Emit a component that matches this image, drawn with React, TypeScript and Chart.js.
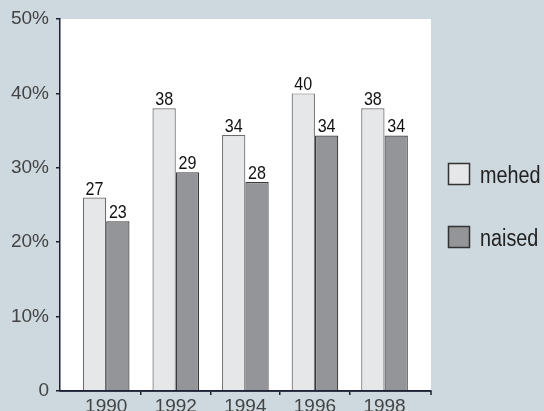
import React, { useEffect, useRef } from 'react';
import { Chart, registerables } from 'chart.js';

Chart.register(...registerables);

const years = ['1990', '1992', '1994', '1996', '1998'];
const seriesNames = ['mehed', 'naised'];
const mehedValues = [26, 38, 34.4, 40, 38];
const naisedValues = [22.8, 29.4, 28.1, 34.35, 34.35];
const mehedLabels = ['27', '38', '34', '40', '38'];
const naisedLabels = ['23', '29', '28', '34', '34'];
const yTickValues = [0, 10, 20, 30, 40, 50];

const AXIS = '#1d2135';
const BG = '#cdd8df';

function drawCondensed(ctx: CanvasRenderingContext2D, text: string, x: number, y: number, size: number, sx: number, align: CanvasTextAlign, baseline: CanvasTextBaseline, color: string) {
  ctx.save();
  ctx.translate(x, y);
  ctx.scale(sx, 1);
  ctx.font = `${size}px "Liberation Sans", Arial, sans-serif`;
  ctx.textAlign = align;
  ctx.textBaseline = baseline;
  ctx.fillStyle = color;
  ctx.fillText(text, 0, 0);
  ctx.restore();
}

const plotBgPlugin = {
  id: 'plotBg',
  beforeDraw(chart: any) {
    const { ctx, chartArea: a } = chart;
    ctx.save();
    ctx.fillStyle = '#ffffff';
    ctx.fillRect(a.left, a.top, a.right - a.left, a.bottom - a.top);
    ctx.restore();
  },
};

const labelsPlugin = {
  id: 'valueLabels',
  afterDatasetsDraw(chart: any) {
    const { ctx, chartArea: a } = chart;
    ctx.save();
    ctx.strokeStyle = AXIS;
    ctx.lineWidth = 1.5;
    ctx.beginPath();
    ctx.moveTo(a.left, a.bottom);
    ctx.lineTo(a.right, a.bottom);
    ctx.moveTo(a.right, a.bottom);
    ctx.lineTo(a.right, a.bottom + 4);
    ctx.stroke();
    ctx.restore();

    chart.data.datasets.forEach((ds: any, di: number) => {
      const meta = chart.getDatasetMeta(di);
      meta.data.forEach((el: any, i: number) => {
        const txt = ds.valueLabels[i];
        drawCondensed(ctx, txt, el.x, el.y - 3, 18.5, 0.87, 'center', 'alphabetic', '#111111');
      });
    });

    const lx = 448.5;
    const ys = [163.5, 226.5];
    chart.data.datasets.forEach((ds: any, di: number) => {
      const y = ys[di];
      ctx.save();
      ctx.fillStyle = ds.backgroundColor;
      ctx.strokeStyle = '#333333';
      ctx.lineWidth = 1.5;
      ctx.fillRect(lx, y, 21, 21);
      ctx.strokeRect(lx, y, 21, 21);
      ctx.restore();
      drawCondensed(ctx, ds.label, 480, y + 19, 23, 0.86, 'left', 'alphabetic', '#222222');
    });
  },
};

export default function App() {
  const ref = useRef<HTMLCanvasElement | null>(null);

  useEffect(() => {
    const canvas = ref.current;
    if (!canvas) return;
    const chart = new Chart(canvas, {
      type: 'bar',
      data: {
        datasets: [
          {
            label: seriesNames[0],
            data: mehedValues.map((v, i) => ({ x: i, y: v })),
            backgroundColor: '#e6e7e8',
            borderColor: '#6a6b6e',
            borderWidth: 1.2,
            valueLabels: mehedLabels,
          } as any,
          {
            label: seriesNames[1],
            data: naisedValues.map((v, i) => ({ x: i, y: v })),
            backgroundColor: '#939598',
            borderColor: '#3a3a3c',
            borderWidth: 1.2,
            valueLabels: naisedLabels,
          } as any,
        ],
      },
      options: {
        animation: false,
        responsive: false,
        maintainAspectRatio: false,
        layout: { padding: { top: 19, right: 113, left: 0, bottom: 0 } },
        datasets: { bar: { categoryPercentage: 0.67, barPercentage: 1 } },
        plugins: { legend: { display: false }, tooltip: { enabled: false } },
        scales: {
          x: {
            type: 'linear',
            min: -0.664,
            max: 4.668,
            offset: false,
            afterBuildTicks: (s: any) => {
              s.ticks = years.map((_, i) => ({ value: i }));
            },
            afterFit: (s: any) => {
              s.height = 20;
            },
            grid: {
              offset: true,
              drawOnChartArea: false,
              drawTicks: true,
              tickLength: 4,
              lineWidth: 1.5,
              color: (c: any) => (c.index >= 1 && c.index <= 4 ? AXIS : 'rgba(0,0,0,0)'),
            },
            border: { display: true, color: AXIS, width: 1.5 },
            ticks: {
              autoSkip: false,
              maxRotation: 0,
              padding: 0,
              color: '#444444',
              font: { family: '"Liberation Sans", Arial, sans-serif', size: 19 },
              callback: (_v: any, i: number) => years[i],
            },
          },
          y: {
            type: 'linear',
            min: 0,
            max: 50,
            afterBuildTicks: (s: any) => {
              s.ticks = yTickValues.map((v) => ({ value: v }));
            },
            afterFit: (s: any) => {
              s.width = 60;
            },
            grid: {
              drawOnChartArea: false,
              drawTicks: true,
              tickLength: 4,
              lineWidth: 1.5,
              color: AXIS,
            },
            border: { display: true, color: AXIS, width: 1.5 },
            ticks: {
              padding: 7,
              color: '#444444',
              font: { family: '"Liberation Sans", Arial, sans-serif', size: 19 },
              callback: (v: any) => (v === 0 ? '0' : `${v}%`),
            },
          },
        },
      } as any,
      plugins: [plotBgPlugin, labelsPlugin],
    });
    return () => chart.destroy();
  }, []);

  return (
    <div style={{ position: 'fixed', left: 0, top: 0, width: 544, height: 411, background: BG, overflow: 'hidden' }}>
      <canvas ref={ref} width={544} height={411} style={{ display: 'block', width: 544, height: 411 }} />
    </div>
  );
}
